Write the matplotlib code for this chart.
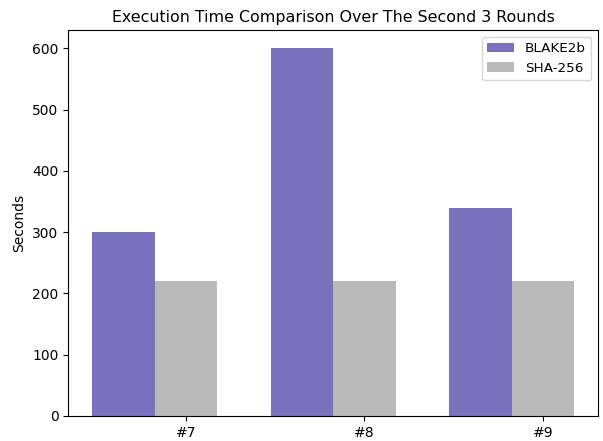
import matplotlib
matplotlib.use("Agg")
import matplotlib.pyplot as plt
import numpy as np

rounds = ["#7", "#8", "#9"]
blake2b = [300, 600, 340]
sha256 = [220, 220, 220]

fig, ax = plt.subplots(figsize=(6.03, 4.41), dpi=100)
x = np.arange(len(rounds))
w = 0.35
ax.bar(x - w / 2, blake2b, w, label="BLAKE2b", color="#7b72bf")
ax.bar(x + w / 2, sha256, w, label="SHA-256", color="#bababa")
ax.set_xticks(x + w / 2)
ax.set_xticklabels(rounds)
ax.set_ylabel("Seconds")
ax.set_title("Execution Time Comparison Over The Second 3 Rounds", fontsize=11.4)
ax.legend(loc="upper right", fontsize=9.7)
fig.subplots_adjust(left=0.113, right=0.992, top=0.932, bottom=0.057)
fig.savefig("out.png", dpi=100)
